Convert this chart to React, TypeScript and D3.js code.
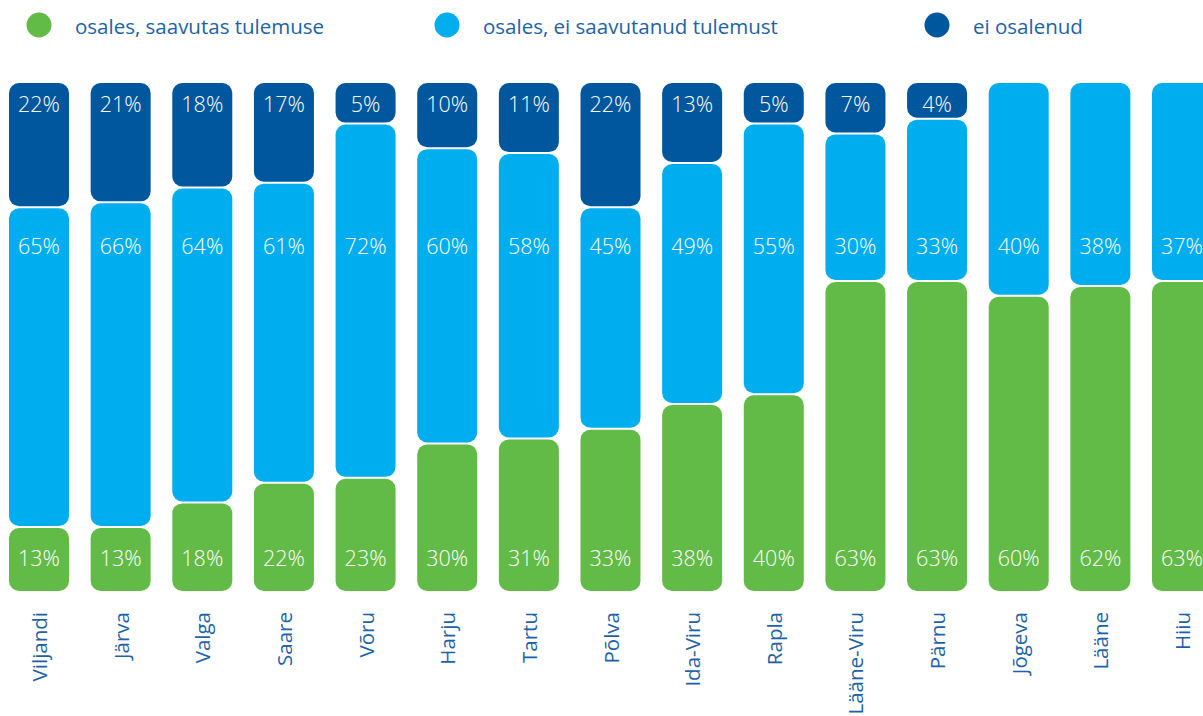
import React from "react";
import * as d3 from "d3";

const categories = ["Viljandi", "Järva", "Valga", "Saare", "Võru", "Harju", "Tartu", "Põlva", "Ida-Viru", "Rapla", "Lääne-Viru", "Pärnu", "Jõgeva", "Lääne", "Hiiu"];
const achieved = [13, 13, 18, 22, 23, 30, 31, 33, 38, 40, 63, 63, 60, 62, 63];
const notAchieved = [65, 66, 64, 61, 72, 60, 58, 45, 49, 55, 30, 33, 40, 38, 37];
const notParticipated = [22, 21, 18, 17, 5, 10, 11, 22, 13, 5, 7, 4, 0, 0, 0];
const seriesNames = ["osales, saavutas tulemuse", "osales, ei saavutanud tulemust", "ei osalenud"];
const seriesColors = ["#62BA47", "#00AEEF", "#00579E"];
const labelY = [557, 245, 103];

const W = 1203;
const H = 716;
const TEXT = "#1D62A6";
const FONT = "'Open Sans', 'Noto Sans', sans-serif";

export default function App() {
  const x = d3.scaleBand<string>().domain(categories).range([9, 1212]).paddingInner(0.265).paddingOuter(0);
  const yMax = 103.25;
  const y = d3.scaleLinear().domain([0, yMax]).range([591, 83]);
  const seriesVals = [achieved, notAchieved, notParticipated];
  const gap = 1;

  const bars: React.ReactNode[] = [];
  categories.forEach((c, i) => {
    const vals = seriesVals.map((s) => s[i]);
    let lastIdx = -1;
    vals.forEach((v, k) => { if (v > 0) lastIdx = k; });
    let cum = 0;
    vals.forEach((v, k) => {
      if (v <= 0) return;
      const lo = cum;
      const hi = k === lastIdx ? yMax : cum + v;
      cum += v;
      const y0 = y(lo) - (k === 0 ? 0 : gap);
      const y1 = y(hi) + (k === lastIdx ? 0 : gap);
      bars.push(
        <g key={c + k}>
          <rect x={x(c)} y={y1} width={x.bandwidth()} height={y0 - y1} rx={10} ry={10} fill={seriesColors[k]} />
          <text x={(x(c) as number) + x.bandwidth() / 2} y={labelY[k]} textAnchor="middle" dominantBaseline="central" fill="#fff" fontSize={21.5} fontWeight={300} fontFamily={FONT}>{v}%</text>
        </g>
      );
    });
  });

  const legendX = [39, 447, 937];

  return (
    <svg width={W} height={H} style={{ position: "absolute", left: 0, top: 0 }}>
      <g>
        {seriesNames.map((n, k) => (
          <g key={n}>
            <circle cx={legendX[k]} cy={25} r={12.5} fill={seriesColors[k]} />
            <text x={legendX[k] + 36} y={26} dominantBaseline="central" fill={TEXT} fontSize={20.5} fontWeight={400} fontFamily={FONT}>{n}</text>
          </g>
        ))}
      </g>
      <g>{bars}</g>
      <g>
        {categories.map((c) => {
          const cx = (x(c) as number) + x.bandwidth() / 2;
          return (
            <text key={c} transform={`translate(${cx},612) rotate(-90)`} textAnchor="end" dominantBaseline="central" fill={TEXT} fontSize={20.5} fontWeight={400} fontFamily={FONT}>{c}</text>
          );
        })}
      </g>
    </svg>
  );
}
